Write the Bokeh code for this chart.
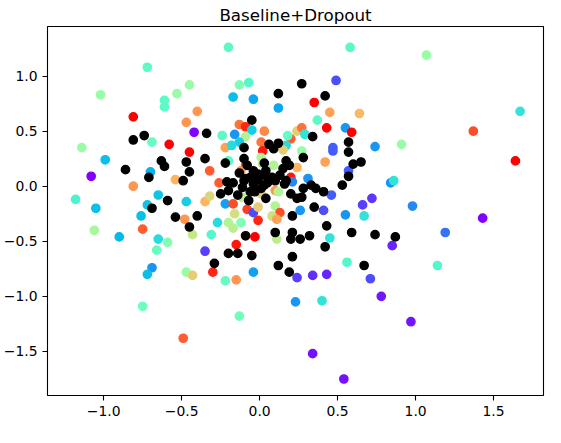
import math
from bokeh.plotting import figure
from bokeh.models import Range1d, FixedTicker, CustomJSTickFormatter, LinearColorMapper, ColumnDataSource
from bokeh.transform import transform
from bokeh.embed import file_html
from bokeh.resources import INLINE

# ---- data ----
# coloured points: x, y and colour value (0 = purple ... 1 = red, "rainbow" map)
col_x = [-0.72, -1.02, -0.53, -0.61, -0.61, -0.81, -0.69, -0.58, -1.14,
         -0.20, -0.45, -0.13, -0.07, -0.17, -0.04, 0.12, -0.40, -0.47, -0.42, -0.24, -0.16, -0.13, -0.09, -0.05,
         -0.09, 0.03, 0.01, 0.20, 0.24, 0.18, -0.13, -0.22, -0.18, 0.17,
         0.58, 0.49, 0.35, 0.45, 0.64, 0.37, 0.27, 0.43, 0.55, 0.59, 0.29, 0.74, 0.91, 0.47,
         1.07, 1.37, 1.67,
         -0.99, -1.08, -0.70, -0.54, -0.81, -1.18, -1.05, -0.65, -0.72, -0.76, -0.75, -1.06, -0.90, -0.65, -0.59,
         -0.66, -0.69,
         -0.72, -0.75,
         -0.45, 0.02, 0.15, -0.20, -0.09, -0.12, 0.01, 0.02, 0.09, 0.24, -0.32, -0.26, 0.01, -0.11, 0.10, 0.12,
         0.20, 0.21, -0.47, -0.35, -0.32, -0.22, -0.17, -0.16, -0.08, -0.04, -0.01, 0.10, 0.13, 0.08, 0.11,
         -0.48, -0.43, -0.27, -0.20, -0.17, -0.12, -0.01, -0.31, -0.03, 0.11, -0.15, -0.35,
         -0.47, -0.43, -0.30, -0.22, -0.15, -0.04, 0.24, 0.23, -0.13, -0.49,
         0.47, 0.27, 0.42, 0.57, 0.31, 0.84, 0.86, 0.46, 0.72, 0.66, 0.98, 0.26, 0.41, 0.55, 0.67, 0.45, 0.85, 0.56,
         1.64, 1.43, 1.19, 1.14,
         0.34, 0.43, 0.71, 0.78, 0.97, 0.40, 0.34, 0.54]
col_y = [1.08, 0.83, 0.84, 0.78, 0.72, 0.63, 0.40, 0.38, 0.35,
         1.26, 0.92, 0.92, 0.94, 0.81, 0.79, 0.71, 0.68, 0.58, 0.49, 0.46, 0.47, 0.56, 0.54, 0.51,
         0.45, 0.50, 0.40, 0.43, 0.50, 0.46, 0.40, 0.35, 0.37, 0.37,
         1.26, 0.96, 0.76, 0.67, 0.66, 0.60, 0.53, 0.53, 0.53, 0.49, 0.47, 0.36, 0.38, 0.35,
         1.19, 0.50, 0.68,
         0.24, 0.09, 0.13, 0.06, 0.00, -0.12, -0.20, -0.08, -0.17, -0.27, -0.39, -0.40, -0.46, -0.48, -0.51,
         -0.58, -0.74,
         -0.80, -1.09,
         0.31, 0.32, 0.33, 0.23, 0.19, 0.14, 0.26, 0.20, 0.19, 0.17, 0.14, 0.03, -0.07, -0.10, -0.04, -0.05,
         0.08, 0.04, -0.14, -0.14, -0.09, -0.16, -0.16, -0.25, -0.21, -0.24, -0.19, -0.18, -0.24, -0.27, -0.30,
         -0.30, -0.44, -0.33, -0.33, -0.38, -0.33, -0.31, -0.44, -0.46, -0.48, -0.53, -0.59,
         -0.78, -0.81, -0.78, -0.86, -0.85, -0.78, -0.83, -1.05, -1.18, -1.38,
         0.32, 0.32, 0.22, 0.14, 0.07, 0.03, 0.05, -0.08, -0.11, -0.17, -0.18, -0.22, -0.22, -0.26, -0.27, -0.47, -0.54, -0.69,
         0.23, -0.29, -0.42, -0.72,
         -0.81, -0.80, -0.84, -1.00, -1.23, -1.04, -1.52, -1.75]
col_c = [0.43, 0.55, 0.55, 0.43, 0.43, 1.0, 0.45, 1.0, 0.55,
         0.43, 0.55, 0.50, 0.42, 0.27, 0.23, 0.23, 0.80, 0.80, 0.0, 0.43, 0.20, 0.85, 0.95, 0.30,
         0.60, 0.82, 0.85, 0.88, 0.70, 0.45, 0.30, 0.78, 0.33, 0.33,
         0.43, 0.10, 1.0, 0.78, 0.74, 0.43, 0.85, 1.0, 0.20, 1.0, 0.35, 0.20, 0.55, 0.12,
         0.55, 0.90, 0.35,
         0.27, 0.0, 0.25, 0.75, 0.80, 0.40, 0.27, 0.28, 0.28, 0.27, 0.88, 0.58, 0.26, 0.33, 0.50,
         0.45, 0.20,
         0.27, 0.47,
         1.0, 0.97, 0.70, 0.43, 0.88, 0.80, 0.60, 0.62, 0.60, 0.75, 0.88, 0.88, 0.70, 0.62, 0.80, 0.60,
         0.97, 0.18, 0.30, 0.75, 0.68, 0.22, 0.90, 0.66, 0.92, 0.10, 0.70, 0.60, 0.90, 0.66, 0.78,
         0.80, 0.64, 0.33, 0.60, 0.62, 0.50, 0.95, 0.42, 1.0, 0.62, 0.97, 0.08,
         0.55, 0.70, 0.95, 0.45, 0.80, 0.22, 0.08, 0.20, 0.47, 0.88,
         0.12, 0.55, 0.78, 0.12, 0.20, 0.20, 0.35, 0.12, 0.07, 0.08, 0.18, 0.20, 0.10, 0.20, 0.35, 0.35, 0.05, 0.42,
         1.0, 0.0, 0.15, 0.42,
         0.06, 0.05, 0.10, 0.03, 0.03, 0.35, 0.02, 0.02]

# black points
blk_x = [-0.74, -0.81,
         0.27, 0.12, -0.34, -0.05, 0.06, 0.12, -0.10,
         0.42, 0.34, 0.57,
         -0.86, -0.63, -0.61, -0.71, -0.59, -0.69, -0.54,
         0.09, -0.47, -0.45, -0.35, -0.22, -0.10, 0.17, 0.19, -0.49, -0.21, -0.25, -0.20, -0.14, -0.10, -0.06,
         -0.01, 0.03, -0.04, 0.03, -0.03, -0.07, 0.04, 0.17, 0.20, 0.24, 0.21, -0.40, -0.45, -0.09, 0.10, 0.21,
         0.20, -0.20, -0.14, -0.05, 0.21, -0.29, 0.12, 0.19,
         -0.13, -0.09, -0.04, -0.01, 0.04, 0.08, -0.11, -0.06, 0.01, 0.05, 0.10, -0.17, 0.13, -0.08, 0.03,
         0.15, 0.16,
         0.57, 0.28, 0.60, 0.65, 0.57, 0.33, 0.28, 0.36, 0.41, 0.27, 0.53, 0.35, 0.43, 0.59, 0.74, 0.87, 0.32,
         0.26, 0.42, 0.67]
blk_y = [0.46, 0.42,
         0.93, 0.84, 0.48, 0.60, 0.38, 0.39, 0.35,
         0.82, 0.45, 0.40,
         0.15, 0.23, 0.18, 0.08, -0.13, -0.20, -0.28,
         0.34, 0.22, 0.13, 0.25, 0.21, 0.25, 0.23, 0.19, 0.05, 0.04, -0.07, -0.04, -0.08, 0.05, 0.08,
         0.11, 0.10, 0.02, 0.01, -0.05, -0.13, -0.11, 0.05, -0.07, -0.11, -0.27, -0.27, -0.37, -0.45, -0.42, -0.42,
         -0.48, -0.61, -0.61, -0.63, -0.64, -0.70, -0.72, -0.78,
         0.12, 0.07, 0.14, 0.06, 0.14, 0.08, -0.01, -0.05, -0.02, 0.03, 0.05, 0.03, 0.10, 0.19, 0.21,
         0.16, 0.02,
         0.31, 0.26, 0.20, 0.22, 0.09, 0.01, -0.02, -0.02, -0.05, -0.10, 0.01, -0.19, -0.36, -0.42, -0.44, -0.46, -0.45,
         -0.48, -0.55, -0.72]

x_ticks = [-1.0, -0.5, 0.0, 0.5, 1.0, 1.5]
y_ticks = [-1.5, -1.0, -0.5, 0.0, 0.5, 1.0]
title_text = "Baseline+Dropout"

# ---- "rainbow" palette ----
def rainbow_hex(t):
    r = abs(2 * t - 0.5)
    g = math.sin(math.pi * t)
    b = math.cos(math.pi * t / 2)
    r, g, b = [max(0.0, min(1.0, v)) for v in (r, g, b)]
    return "#%02x%02x%02x" % (round(r * 255), round(g * 255), round(b * 255))

palette = [rainbow_hex(i / 255) for i in range(256)]
mapper = LinearColorMapper(palette=palette, low=0.0, high=1.0)

p = figure(frame_width=496, frame_height=369, output_backend="svg", toolbar_location=None,
           x_range=Range1d(-1.36, 1.82), y_range=Range1d(-1.90, 1.45),
           title=title_text,
           min_border_left=44, min_border_right=5, min_border_top=24, min_border_bottom=34)
p.background_fill_color = "white"
p.border_fill_color = "white"
p.grid.visible = False
p.outline_line_color = "black"
p.outline_line_width = 1.1

p.title.align = "center"
p.title.text_font = "DejaVu Sans"
p.title.text_font_size = "16.7px"
p.title.text_font_style = "normal"
p.title.text_color = "black"
p.title.standoff = 4

fmt = CustomJSTickFormatter(code="return tick.toFixed(1).replace('-', '\u2212');")
for ax, ticks in ((p.xaxis, x_ticks), (p.yaxis, y_ticks)):
    ax.ticker = FixedTicker(ticks=ticks)
    ax.formatter = fmt
    ax.minor_tick_line_color = None
    ax.major_tick_in = 0
    ax.major_tick_out = 5
    ax.major_tick_line_color = "black"
    ax.major_tick_line_width = 1.1
    ax.axis_line_color = None
    ax.major_label_text_font = "DejaVu Sans"
    ax.major_label_text_font_size = "13.9px"
    ax.major_label_text_color = "black"
    ax.major_label_standoff = 5

src = ColumnDataSource(dict(x=col_x, y=col_y, c=col_c))
p.scatter(x="x", y="y", source=src, size=8.3,
          fill_color=transform("c", mapper), line_color=transform("c", mapper), line_width=1.4)
p.scatter(x=blk_x, y=blk_y, size=8.3, fill_color="black", line_color="black", line_width=1.4)

open("out.html", "w").write(file_html(p, INLINE))
